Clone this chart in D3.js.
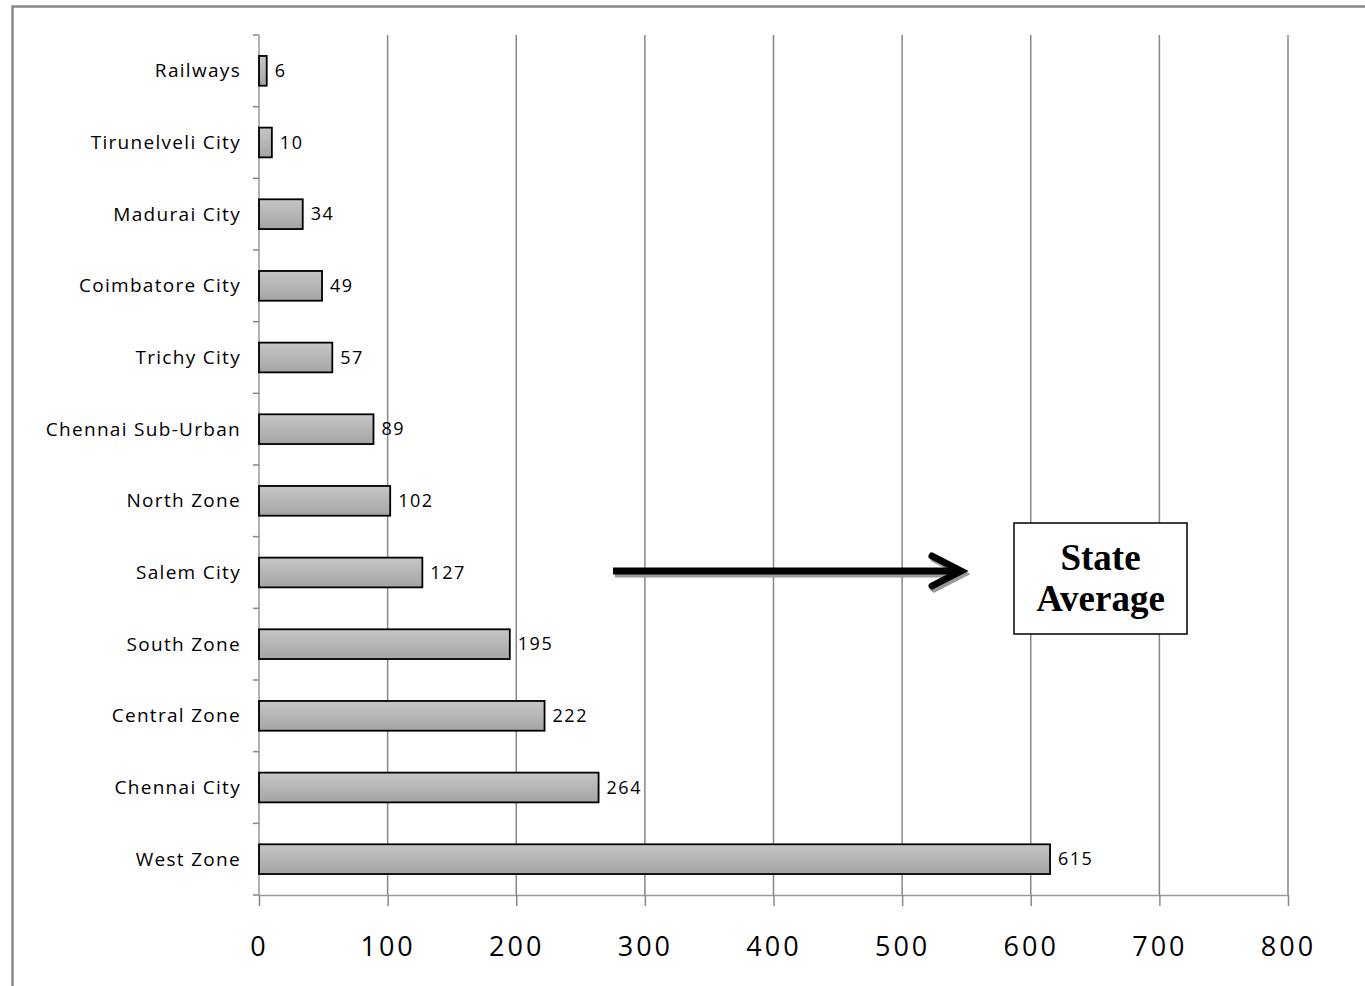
<!DOCTYPE html>
<html><head><meta charset="utf-8">
<script src="https://cdn.jsdelivr.net/npm/d3@7"></script>
<style>body{margin:0;background:#fff}svg{display:block}</style>
</head><body>
<script>
const categories = ["Railways","Tirunelveli City","Madurai City","Coimbatore City","Trichy City","Chennai Sub-Urban","North Zone","Salem City","South Zone","Central Zone","Chennai City","West Zone"];
const values = [6,10,34,49,57,89,102,127,195,222,264,615];
const xTicks = [0,100,200,300,400,500,600,700,800];
const annotationLines = ["State","Average"];

const W = 1365, H = 986;
const svg = d3.select("body").append("svg").attr("width",W).attr("height",H);
const defs = svg.append("defs");
const grad = defs.append("linearGradient").attr("id","barg").attr("x1",0).attr("y1",0).attr("x2",0).attr("y2",1);
grad.append("stop").attr("offset","0%").attr("stop-color","#c6c6c6");
grad.append("stop").attr("offset","100%").attr("stop-color","#a4a4a4");

// outer frame
svg.append("rect").attr("x",12.5).attr("y",6.5).attr("width",1365).attr("height",1000)
  .attr("fill","none").attr("stroke","#888").attr("stroke-width",2.5);

const L = 259, R = 1288, T = 35, B = 895;
const x = d3.scaleLinear().domain([0,800]).range([L,R]);
const y = d3.scaleBand().domain(categories).range([T,B]).paddingInner(0.585).paddingOuter(0.2925);
const yb = d3.scaleBand().domain(categories).range([T,B]);

// gridlines
svg.append("g").selectAll("line").data(xTicks.slice(1)).join("line")
  .attr("x1",d=>x(d)).attr("x2",d=>x(d)).attr("y1",T).attr("y2",B)
  .attr("stroke","#878787").attr("stroke-width",1.5);

// x axis
const xa = svg.append("g").attr("transform",`translate(0,${B})`)
  .call(d3.axisBottom(x).tickValues(xTicks).tickSize(11).tickPadding(31).tickSizeOuter(0));
xa.select(".domain").attr("stroke","#999").attr("stroke-width",1.5);
xa.selectAll(".tick line").attr("stroke","#888").attr("stroke-width",1.5);
xa.selectAll("text").attr("font-family","Open Sans, Lato, sans-serif").attr("font-size",27)
  .attr("letter-spacing","3px").attr("fill","#000");

// y axis line + ticks at boundaries
svg.append("line").attr("x1",L).attr("x2",L).attr("y1",T).attr("y2",B).attr("stroke","#999").attr("stroke-width",1.5);
const bounds = categories.map(c=>yb(c)).concat([B]);
svg.append("g").selectAll("line").data(bounds).join("line")
  .attr("x1",L-6).attr("x2",L).attr("y1",d=>d).attr("y2",d=>d)
  .attr("stroke","#888").attr("stroke-width",1.5);

// category labels
svg.append("g").selectAll("text").data(categories).join("text")
  .attr("x",241).attr("y",d=>yb(d)+yb.bandwidth()/2).attr("dy","0.35em")
  .attr("text-anchor","end").attr("font-family","Open Sans, Lato, sans-serif").attr("font-size",19)
  .attr("letter-spacing","1.3px").attr("fill","#000").text(d=>d);

// bars
svg.append("g").selectAll("rect").data(values).join("rect")
  .attr("x",x(0)).attr("y",(d,i)=>y(categories[i]))
  .attr("width",d=>x(d)-x(0)).attr("height",y.bandwidth())
  .attr("fill","url(#barg)").attr("stroke","#000").attr("stroke-width",1.8);

// value labels
svg.append("g").selectAll("text").data(values).join("text")
  .attr("x",d=>x(d)+8).attr("y",(d,i)=>y(categories[i])+y.bandwidth()/2).attr("dy","0.35em")
  .attr("font-family","Open Sans, Lato, sans-serif").attr("font-size",18)
  .attr("letter-spacing","1.5px").attr("fill","#000").text(d=>d);

// arrow with shadow
function arrow(g, dx, dy, color){
  const a = g.append("g").attr("transform",`translate(${dx},${dy})`);
  a.append("line").attr("x1",613).attr("x2",958).attr("y1",571).attr("y2",571)
    .attr("stroke",color).attr("stroke-width",7);
  a.append("path").attr("d","M932,556 L961,571 L932,586").attr("fill","none")
    .attr("stroke",color).attr("stroke-width",7).attr("stroke-linecap","round").attr("stroke-linejoin","miter");
}
const ag = svg.append("g");
arrow(ag,2,3,"#9a9a9a");
arrow(ag,0,0,"#000");

// annotation box
svg.append("rect").attr("x",1014).attr("y",523).attr("width",173).attr("height",111)
  .attr("fill","#fff").attr("stroke","#000").attr("stroke-width",1.5);
svg.append("g").selectAll("text").data(annotationLines).join("text")
  .attr("x",1100.5).attr("y",(d,i)=>570+i*41).attr("text-anchor","middle")
  .attr("font-family","Liberation Serif, Times New Roman, serif").attr("font-weight","bold")
  .attr("font-size",37).attr("fill","#000").text(d=>d);
</script>
</body></html>
